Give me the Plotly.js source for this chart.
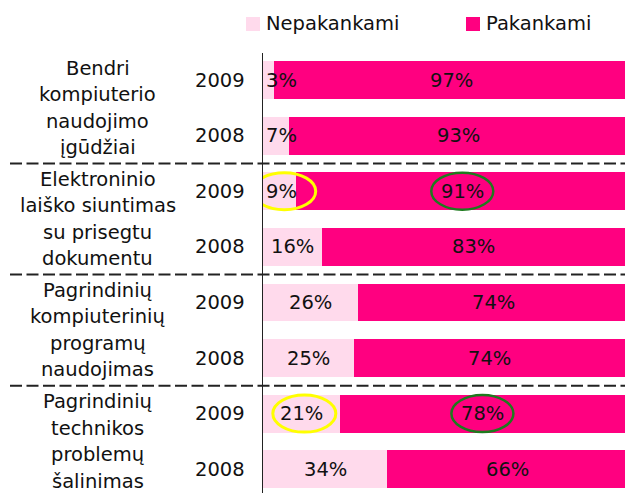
<!DOCTYPE html>
<html>
<head>
<meta charset="utf-8">
<script src="https://cdn.plot.ly/plotly-3.0.1.min.js"></script>
<style>html,body{margin:0;padding:0;background:#fff;}#chart{width:625px;height:493px;}</style>
</head>
<body>
<div id="chart"></div>
<script>
// ---- data ----
const groups = [
  "Bendri<br>kompiuterio<br>naudojimo<br>įgūdžiai",
  "Elektroninio<br>laiško siuntimas<br>su prisegtu<br>dokumentu",
  "Pagrindinių<br>kompiuterinių<br>programų<br>naudojimas",
  "Pagrindinių<br>technikos<br>problemų<br>šalinimas"
];
const years = ["2009", "2008", "2009", "2008", "2009", "2008", "2009", "2008"];
const nepakankami = [3, 7, 9, 16, 26, 25, 21, 34];
const pakankami = [97, 93, 91, 83, 74, 74, 78, 66];
const seriesNames = ["Nepakankami", "Pakankami"];
const highlightRows = [2, 6];

// ---- styling ----
const FONT = "DejaVu Sans, Verdana, sans-serif";
const FS = 19.5;
const C_NEP = "#FFDAEC";
const C_PAK = "#FF0080";
const W = 625, H = 493, ML = 263, MT = 53;
const PW = W - ML, PH = H - MT;
const px2paperX = p => (p - ML) / PW;
const px2paperY = p => (H - p) / PH;

const rows = years.map((_, i) => i);

const traces = [
  {type: "bar", orientation: "h", name: seriesNames[0], y: rows, x: nepakankami,
   marker: {color: C_NEP}, width: 0.68, hoverinfo: "none", showlegend: false},
  {type: "bar", orientation: "h", name: seriesNames[1], y: rows, x: pakankami,
   marker: {color: C_PAK}, width: 0.68, hoverinfo: "none", showlegend: false}
];

const annotations = [];
const shapes = [];

// data labels
rows.forEach(i => {
  annotations.push({x: Math.max(nepakankami[i] / 2, 5), y: i, xref: "x", yref: "y",
    xanchor: "center", text: nepakankami[i] + "%", showarrow: false,
    font: {family: FONT, size: FS, color: "#111"}});
  annotations.push({x: nepakankami[i] + pakankami[i] / 2, y: i, xref: "x", yref: "y",
    xanchor: "center", text: pakankami[i] + "%", showarrow: false,
    font: {family: FONT, size: FS, color: "#111"}});
  // year labels
  annotations.push({x: px2paperX(247), y: i, xref: "paper", yref: "y", xanchor: "right",
    text: years[i], showarrow: false, font: {family: FONT, size: FS, color: "#111"}});
});

// group labels (line by line)
groups.forEach((g, gi) => {
  const lines = g.split("<br>");
  lines.forEach((ln, li) => {
    annotations.push({x: px2paperX(97.5), y: gi * 2 + 0.5, xref: "paper", yref: "y",
      xanchor: "center", yanchor: "middle",
      yshift: -(li - (lines.length - 1) / 2) * 26.5,
      text: ln, showarrow: false, font: {family: FONT, size: FS, color: "#111"}});
  });
  if (gi > 0) {
    shapes.push({type: "line", xref: "paper", yref: "y", x0: px2paperX(10), x1: 1,
      y0: gi * 2 - 0.5, y1: gi * 2 - 0.5, line: {color: "#222", width: 2, dash: "12px,4.5px"}});
  }
});

// highlight ellipses
highlightRows.forEach(i => {
  shapes.push({type: "circle", xref: "x", yref: "y", xsizemode: "pixel", ysizemode: "pixel",
    xanchor: Math.max(nepakankami[i] / 2, 5) + 0.8, yanchor: i, x0: -31.5, x1: 31.5, y0: -18.5, y1: 18.5,
    line: {color: "#FFFF00", width: 3}});
  shapes.push({type: "circle", xref: "x", yref: "y", xsizemode: "pixel", ysizemode: "pixel",
    xanchor: nepakankami[i] + pakankami[i] / 2, yanchor: i, x0: -31, x1: 31, y0: -18.5, y1: 18.5,
    line: {color: "#1E7A1E", width: 2.5}});
});

// manual legend
const legendItems = [{x: 246, color: C_NEP}, {x: 466, color: C_PAK}];
legendItems.forEach((it, k) => {
  shapes.push({type: "rect", xref: "paper", yref: "paper",
    x0: px2paperX(it.x), x1: px2paperX(it.x + 14), y0: px2paperY(31), y1: px2paperY(17),
    fillcolor: it.color, line: {width: 0}});
  annotations.push({x: px2paperX(it.x + 18), y: px2paperY(24), xref: "paper", yref: "paper",
    xanchor: "left", yanchor: "middle", text: seriesNames[k], showarrow: false,
    font: {family: FONT, size: FS, color: "#111"}});
});

const layout = {
  width: W, height: H,
  margin: {l: ML, r: 0, t: MT, b: 0, pad: 0},
  paper_bgcolor: "#fff", plot_bgcolor: "#fff",
  barmode: "stack", showlegend: false,
  xaxis: {range: [0, 99], visible: false, fixedrange: true},
  yaxis: {range: [7.428, -0.486], showticklabels: false, ticks: "", showgrid: false,
          zeroline: false, showline: true, linecolor: "#222", linewidth: 1, fixedrange: true},
  annotations: annotations,
  shapes: shapes,
  font: {family: FONT}
};

Plotly.newPlot("chart", traces, layout, {displayModeBar: false, staticPlot: true});
</script>
</body>
</html>
